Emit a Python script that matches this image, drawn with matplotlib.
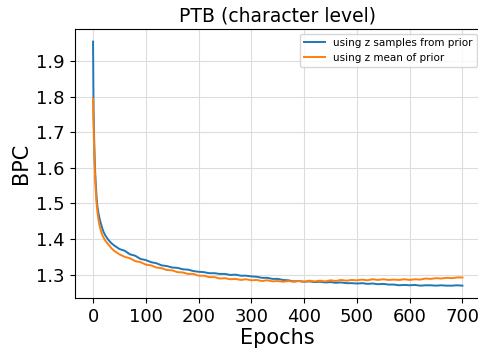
import matplotlib
matplotlib.use("Agg")
import matplotlib.pyplot as plt

early_epochs = [0, 1, 2, 3, 4, 5, 6, 7, 8, 10, 12, 14, 16, 18, 20, 23, 26, 30, 35, 40, 45]
late_epochs = list(range(50, 701, 10))
epochs = early_epochs + late_epochs

bpc_samples = [
    1.955, 1.76, 1.69, 1.63, 1.59, 1.56, 1.535, 1.512, 1.495, 1.475, 1.46, 1.448, 1.438, 1.428,
    1.420, 1.411, 1.404, 1.396, 1.388, 1.382, 1.377,
    1.372, 1.367, 1.357, 1.353, 1.344, 1.341, 1.335, 1.332, 1.326, 1.324,
    1.320, 1.319, 1.315, 1.314, 1.310, 1.308, 1.307, 1.304, 1.304, 1.302,
    1.302, 1.299, 1.300, 1.297, 1.297, 1.295, 1.294, 1.291, 1.291, 1.288,
    1.288, 1.285, 1.284, 1.281, 1.282, 1.280, 1.281, 1.279, 1.280, 1.278,
    1.279, 1.277, 1.278, 1.276, 1.276, 1.275, 1.276, 1.274, 1.275, 1.273,
    1.274, 1.272, 1.272, 1.270, 1.271, 1.270, 1.271, 1.269, 1.270, 1.270,
    1.269, 1.270, 1.269, 1.269, 1.270, 1.269,
]

bpc_mean = [
    1.795, 1.72, 1.66, 1.61, 1.57, 1.54, 1.515, 1.495, 1.48, 1.457, 1.44, 1.428, 1.418, 1.410,
    1.404, 1.396, 1.390, 1.383, 1.374, 1.367, 1.362,
    1.357, 1.350, 1.346, 1.338, 1.335, 1.328, 1.326, 1.320, 1.318, 1.313,
    1.312, 1.307, 1.306, 1.302, 1.302, 1.297, 1.297, 1.293, 1.293, 1.289,
    1.290, 1.287, 1.288, 1.285, 1.287, 1.284, 1.285, 1.282, 1.284, 1.281,
    1.282, 1.280, 1.282, 1.280, 1.282, 1.280, 1.283, 1.281, 1.283, 1.281,
    1.284, 1.282, 1.285, 1.283, 1.285, 1.284, 1.286, 1.284, 1.287, 1.285,
    1.287, 1.285, 1.286, 1.285, 1.287, 1.285, 1.287, 1.286, 1.289, 1.288,
    1.290, 1.289, 1.291, 1.290, 1.292, 1.292,
]

series_labels = ["using z samples from prior", "using z mean of prior"]
title = "PTB (character level)"
xlabel = "Epochs"
ylabel = "BPC"

fig = plt.figure(figsize=(4.78, 3.5), dpi=100)
ax = fig.add_axes([0.156, 0.149, 0.85, 0.767])

ax.plot(epochs, bpc_samples, color="#1f77b4", lw=1.4, label=series_labels[0])
ax.plot(epochs, bpc_mean, color="#ff7f0e", lw=1.4, label=series_labels[1])

ax.grid(True, color="#dddddd", lw=0.8)
ax.set_axisbelow(True)
ax.set_xticks([0, 100, 200, 300, 400, 500, 600, 700])
ax.set_yticks([1.3, 1.4, 1.5, 1.6, 1.7, 1.8, 1.9])
ax.tick_params(labelsize=13)
ax.set_xlabel(xlabel, fontsize=15, labelpad=2)
ax.set_ylabel(ylabel, fontsize=15)
ax.set_title(title, fontsize=13.5, pad=6)
leg = ax.legend(loc="upper right", fontsize=7.5, borderaxespad=0.4)

fig.savefig("out.png", dpi=100)
